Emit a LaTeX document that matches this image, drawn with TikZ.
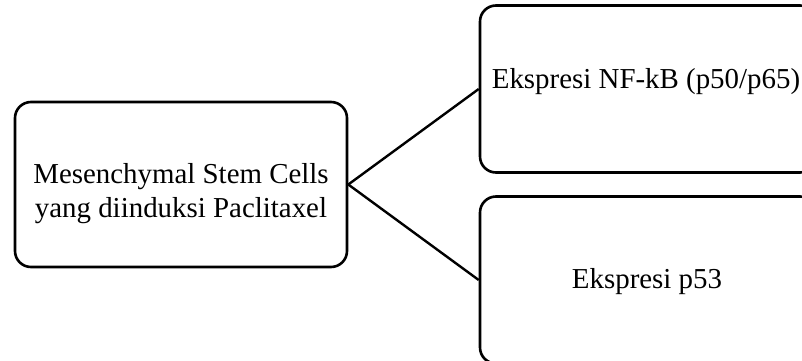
\documentclass[tikz,border=0pt]{standalone}
\usepackage{fontspec}
\setmainfont{Liberation Serif}
\begin{document}
\begin{tikzpicture}[x=1pt, y=1pt,
  card/.style={draw=black, line width=2.6pt, rounded corners=16pt, fill=none, inner sep=0pt},
  link/.style={draw=black, line width=2.4pt},
  label/.style={font=\fontsize{28.9}{34}\selectfont, inner sep=0pt, align=center}]
  \useasboundingbox (0,0) rectangle (802,360);
  \clip (0,0) rectangle (802,360);

  % boxes
  \node[card, minimum width=332pt, minimum height=165pt] (src) at (181,175.5) {};
  \node[card, minimum width=336pt, minimum height=167pt] (nfkb) at (648,271) {};
  \node[card, minimum width=336pt, minimum height=167pt] (ptf) at (648,80) {};

  % texts (base anchor sits on the last line)
  \node[label, anchor=base] (srcT) at (181,143) {Mesenchymal Stem Cells\\yang diinduksi Paclitaxel};
  \node[label, anchor=base] (nfkbT) at (646,272) {Ekspresi NF-kB (p50/p65)};
  \node[label, anchor=base] (ptfT) at (647,72) {Ekspresi p53};

  % connectors
  \draw[link] (src.east) -- (nfkb.west);
  \draw[link] (src.east) -- (ptf.west);
\end{tikzpicture}
\end{document}
